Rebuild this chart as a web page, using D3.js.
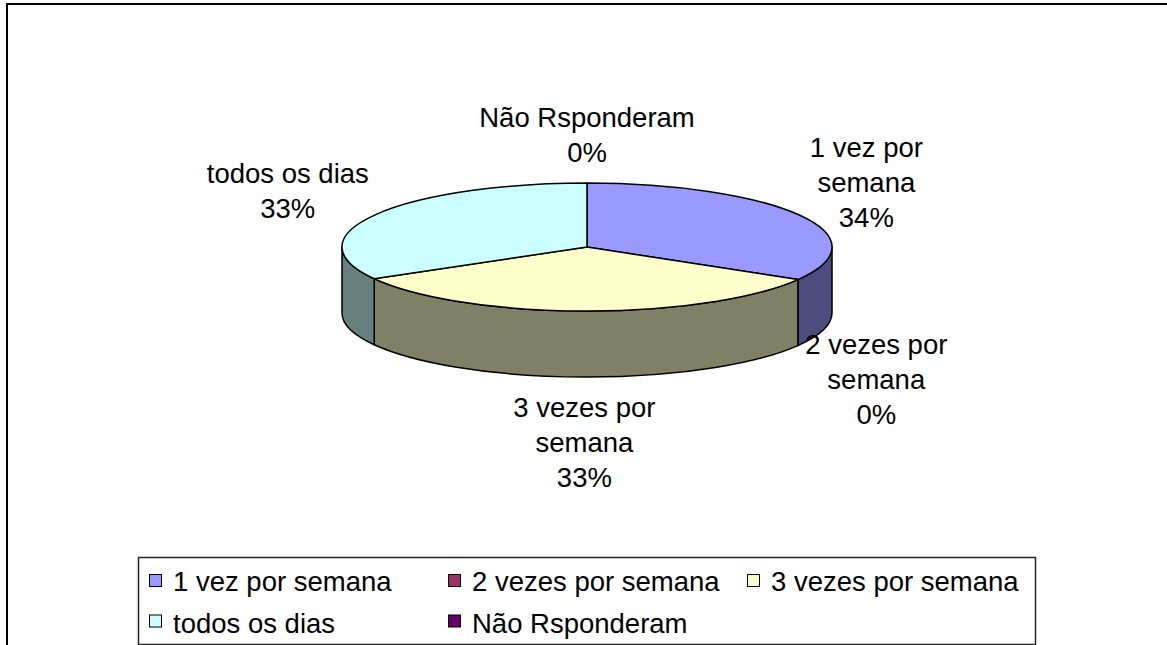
<!DOCTYPE html>
<html>
<head>
<meta charset="utf-8">
<script src="https://cdn.jsdelivr.net/npm/d3@7"></script>
<style>
  html, body { margin: 0; padding: 0; background: #fff; }
  svg text { font-family: "Liberation Sans", Arial, sans-serif; fill: #000; }
</style>
</head>
<body>
<div id="chart"></div>
<script>
// chart data
var categories = ["1 vez por semana", "2 vezes por semana", "3 vezes por semana", "todos os dias", "Não Rsponderam"];
var shares = [33.5, 0, 33.25, 33.25, 0];
var labelLines = [["1 vez por", "semana"], ["2 vezes por", "semana"], ["3 vezes por", "semana"], ["todos os dias"], ["Não Rsponderam"]];
var topColors = ["#9999FF", "#993366", "#FFFFCC", "#CCFFFF", "#660066"];
var sideColors = ["#4D4D80", "#4D1A33", "#808066", "#668080", "#330033"];

(function () {
    'use strict';

    var W = 1167, H = 645;
    var cx = 587, cy = 247, rx = 245, ry = 64, depth = 66;
    var fontSize = 27.5, lineH = 35;

    var svg = d3.select("#chart").append("svg")
        .attr("width", W).attr("height", H);

    // outer chart frame (right/bottom run off the picture)
    svg.append("rect")
        .attr("x", 7).attr("y", 4)
        .attr("width", 1200).attr("height", 700)
        .attr("fill", "none").attr("stroke", "#000").attr("stroke-width", 2);

    var total = d3.sum(shares);
    var arcs = d3.pie().sort(null).value(function (d) { return d; })(shares);

    function pt(a, dy) {
        return [cx + rx * Math.sin(a), cy - ry * Math.cos(a) + (dy || 0)];
    }

    // side walls (front half only)
    var sides = svg.append("g");
    arcs.forEach(function (d, i) {
        var s = Math.max(d.startAngle, Math.PI / 2);
        var e = Math.min(d.endAngle, 3 * Math.PI / 2);
        if (e <= s) return;
        var p0 = pt(s), p1 = pt(e), p2 = pt(e, depth), p3 = pt(s, depth);
        var path = "M" + p0 + "A" + rx + "," + ry + " 0 0 1 " + p1 +
                   "L" + p2 + "A" + rx + "," + ry + " 0 0 0 " + p3 + "Z";
        sides.append("path")
            .attr("d", path)
            .attr("fill", sideColors[i])
            .attr("stroke", "#000").attr("stroke-width", 1.5)
            .attr("stroke-linejoin", "round");
    });

    // top faces
    var arcGen = d3.arc().innerRadius(0).outerRadius(1);
    svg.append("g")
        .attr("transform", "translate(" + cx + "," + cy + ") scale(" + rx + "," + ry + ")")
        .selectAll("path")
        .data(arcs.filter(function (d) { return d.value > 0; }))
        .enter().append("path")
        .attr("d", arcGen)
        .attr("fill", function (d) { return topColors[d.index]; })
        .attr("stroke", "#000").attr("stroke-width", 1.5)
        .attr("vector-effect", "non-scaling-stroke")
        .attr("stroke-linejoin", "round");

    // data labels, pushed out from the rim along the slice middle
    var padX = 20, padY = 13;
    arcs.forEach(function (d, i) {
        var a = (d.startAngle + d.endAngle) / 2;
        var sn = Math.sin(a), cs = Math.cos(a);
        var ax = cx + (rx + padX) * sn;
        var ay = cy - (ry + padY) * cs + (cs < 0 ? depth : 0);
        var lines = labelLines[i].concat([Math.round(d.value * 100 / total) + "%"]);
        var g = svg.append("g");
        var t = g.append("text")
            .attr("text-anchor", "middle")
            .style("font-size", fontSize + "px");
        lines.forEach(function (l, k) {
            t.append("tspan").attr("x", 0).attr("y", k * lineH).text(l);
        });
        var w = d3.max(t.selectAll("tspan").nodes(), function (n) { return n.getComputedTextLength(); });
        var h = lines.length * lineH;
        var bx = ax + sn * w / 2;
        var by = ay - cs * h / 2;
        var firstBase = by - (lines.length - 1) * lineH / 2 + 0.35 * fontSize;
        g.attr("transform", "translate(" + bx + "," + firstBase + ")");
    });

    // legend
    var lg = svg.append("g");
    lg.append("rect")
        .attr("x", 138.5).attr("y", 557.5)
        .attr("width", 897).attr("height", 87)
        .attr("fill", "#fff").attr("stroke", "#222").attr("stroke-width", 1.5);

    var colW = 299, rowH = 41.5;
    categories.forEach(function (c, i) {
        var col = i % 3, row = Math.floor(i / 3);
        var x = 149 + col * colW;
        var base = 591 + row * rowH;
        lg.append("rect")
            .attr("x", x + 0.5).attr("y", base - 17 - row + 0.5)
            .attr("width", 12).attr("height", 12)
            .attr("fill", topColors[i])
            .attr("stroke", "#000").attr("stroke-width", 1);
        lg.append("text")
            .attr("x", x + 24).attr("y", base)
            .style("font-size", fontSize + "px")
            .text(c);
    });
})();
</script>
</body>
</html>
